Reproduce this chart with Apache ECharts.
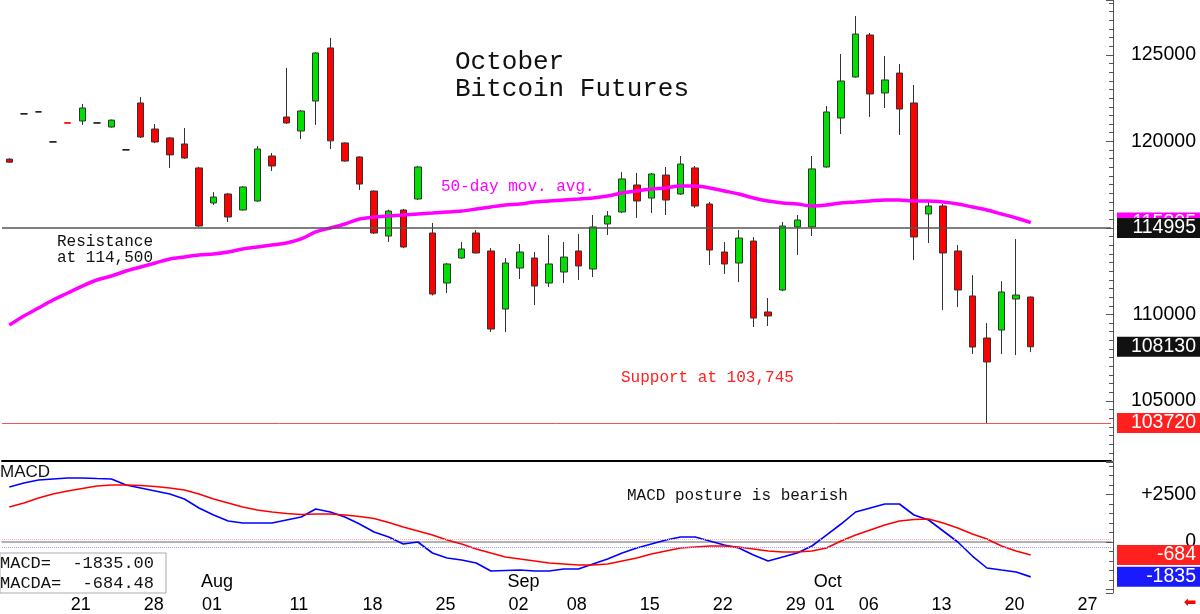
<!DOCTYPE html>
<html>
<head>
<meta charset="utf-8">
<title>October Bitcoin Futures</title>
<script src="https://cdn.jsdelivr.net/npm/echarts@6/dist/echarts.min.js"></script>
<style>
html, body { margin: 0; padding: 0; background: #fff; }
#chart { width: 1200px; height: 614px; }
</style>
</head>
<body>
<div id="chart"></div>
<script>
// trading days (last five are empty future slots on the axis)
var dates = ['07-15','07-16','07-17','07-18','07-21','07-22','07-23','07-24','07-25',
	'07-28','07-29','07-30','07-31','08-01','08-04','08-05','08-06','08-07','08-08',
	'08-11','08-12','08-13','08-14','08-15','08-18','08-19','08-20','08-21','08-22',
	'08-25','08-26','08-27','08-28','08-29','09-02','09-03','09-04','09-05',
	'09-08','09-09','09-10','09-11','09-12','09-15','09-16','09-17','09-18','09-19',
	'09-22','09-23','09-24','09-25','09-26','09-29','09-30','10-01','10-02','10-03',
	'10-06','10-07','10-08','10-09','10-10','10-13','10-14','10-15','10-16','10-17',
	'10-20','10-21','10-22','10-23','10-24','10-27','10-28','10-29'];

var opens = [118975, 121590, 121705, 119970, 121080, 121180, 121065, 120830, 119510,
	122220, 120715, 120200, 119850, 118465, 116440, 116960, 116035, 116555, 119155,
	121410, 120600, 122335, 125400, 119910, 119100, 117130, 114530, 116035, 116670,
	114705, 111815, 113260, 114705, 113665, 110310, 112680, 113260, 111815,
	112450, 113665, 112625, 115225, 115920, 117480, 116725, 118055, 116960, 118465,
	116380, 113605, 112970, 114240, 110140, 111410, 115055, 115055, 118520, 121350,
	123720, 126150, 122800, 123950, 122220, 115805, 116265, 113665, 111065, 108635,
	109095, 110890, 111005];
var closes = [118800, 121590, 121705, 119970, 121050, 121930, 121065, 121230, 119510,
	120255, 119965, 119220, 119040, 115110, 116785, 115630, 117365, 119560, 118580,
	121065, 121755, 125110, 120030, 118865, 117535, 114705, 115975, 113895, 118520,
	111180, 112915, 113780, 113550, 109155, 112970, 113605, 111640, 112915,
	113315, 112800, 115055, 115690, 117830, 116555, 118115, 116610, 118690, 116265,
	113720, 112915, 114415, 109790, 109910, 115110, 115455, 118410, 121700, 123490,
	126205, 122740, 123550, 121870, 114475, 116265, 113550, 111410, 108115, 107250,
	111295, 111120, 108130];
var highs = [119025, 121590, 121705, 119970, 121080, 122160, 121065, 121265, 119510,
	122565, 121005, 120250, 120775, 118530, 117070, 117010, 117415, 119735, 119330,
	124245, 121815, 125150, 125975, 119945, 119135, 117160, 116050, 116100, 118580,
	115285, 112965, 114185, 114880, 113840, 113260, 114070, 113605, 114590,
	114185, 114650, 115745, 115975, 118235, 118175, 118175, 118520, 119155, 118580,
	116500, 114185, 114880, 114470, 110950, 115340, 115745, 119155, 122045, 125050,
	127245, 126265, 124935, 124475, 123260, 116500, 116380, 114010, 112270, 109505,
	111920, 114355, 111040];
var lows = [118770, 121590, 121705, 119970, 121050, 120950, 121065, 120800, 119510,
	120195, 119895, 118465, 118985, 115055, 116325, 115340, 116000, 116505, 118290,
	121005, 120140, 120950, 119560, 118830, 117190, 114650, 114185, 113825, 116605,
	111095, 111235, 113215, 113520, 108980, 108980, 112045, 110540, 111585,
	111815, 111990, 112160, 114590, 115850, 115570, 115860, 115745, 116910, 116150,
	112855, 112335, 111870, 109270, 109330, 111345, 113430, 114530, 118475, 120425,
	123685, 121410, 121930, 120370, 113140, 114125, 110255, 110425, 107710, 103720,
	107710, 107650, 107820];

var ma50 = [109385, 109910, 110370, 110835, 111235, 111640, 111990, 112220, 112510, 112740,
	112970, 113205, 113320, 113435, 113490, 113605, 113780, 113895, 114010, 114125,
	114360, 114765, 114995, 115225, 115515, 115630, 115690, 115745, 115805, 115860,
	115920, 115975, 116090, 116210, 116325, 116380, 116495, 116555, 116615, 116670,
	116730, 116845, 117020, 117135, 117250, 117310, 117420, 117420, 117310, 117135,
	116960, 116730, 116555, 116440, 116380, 116265, 116325, 116440, 116495, 116555,
	116615, 116615, 116555, 116555, 116495, 116380, 116210, 116035, 115805, 115570,
	115305];

var macd = [2895, 3105, 3263, 3316, 3368, 3368, 3340, 3316, 3000, 2842,
	2684, 2526, 2263, 1790, 1421, 1105, 1000, 1000, 1000, 1158,
	1316, 1737, 1579, 1316, 947, 526, 263, -105, 0, -579,
	-842, -947, -1105, -1526, -1500, -1474, -1526, -1526, -1421, -1421,
	-1158, -895, -579, -316, -105, 105, 263, 263, 53, -158,
	-316, -684, -1000, -789, -579, -210, 368, 947, 1579, 1789,
	2000, 2000, 1421, 1158, 579, 0, -737, -1368, -1474, -1579,
	-1835];
var macda = [1842, 2053, 2316, 2526, 2684, 2816, 2947, 3000, 3000, 2974,
	2921, 2842, 2737, 2526, 2263, 2053, 1842, 1684, 1579, 1500,
	1447, 1474, 1474, 1421, 1342, 1237, 1026, 789, 579, 368,
	105, -105, -368, -579, -789, -895, -1000, -1105, -1158, -1210,
	-1210, -1158, -1000, -842, -631, -474, -316, -263, -210, -210,
	-263, -368, -474, -526, -526, -474, -316, 53, 368, 631,
	895, 1105, 1184, 1210, 1000, 737, 421, 158, -210, -474,
	-684];

var tickDates = ['07-21','07-28','08-01','08-11','08-18','08-25','09-02','09-08',
	'09-15','09-22','09-29','10-01','10-06','10-13','10-20','10-27'];
var monthDates = ['08-01', '09-02', '10-01'];
var monthNames = ['Aug', 'Sep', 'Oct'];

var resistanceLevel = 114995;
var supportLevel = 103720;
var macdLast = -1835.00;
var macdaLast = -684.48;

var MONO = 'Liberation Mono';
var SANS = 'Liberation Sans';
var NONE = 'rgba(0,0,0,0)';

/**
 * 价格K线数据
 * **/
var candles = closes.map(function(c, i) {
	var o = opens[i];
	var item = { value: [o, c, lows[i], highs[i]] };
	// 无成交区间的横线
	if (highs[i] === Math.max(o, c) && lows[i] === Math.min(o, c) && Math.abs(o - c) <= 60) {
		var col = o > c ? '#ff0000' : '#000';
		item.itemStyle = { color: col, color0: col, borderColor: col, borderColor0: col, borderColorDoji: col };
	}
	return item;
});

function tag(bg) {
	return {
		show: true,
		position: 'end',
		distance: 6,
		formatter: function(p) {
			return '{t|' + Math.round(p.value) + '}';
		},
		backgroundColor: bg,
		padding: [0, 4, 0, 4],
		rich: {
			t: { width: 75, align: 'right', color: '#fff', fontSize: 19.5, fontFamily: SANS, lineHeight: 20 }
		}
	};
}

var chart = echarts.init(document.getElementById('chart'));
window.onresize = function() {
	chart.resize();
};

var option = {
	animation: false,
	backgroundColor: '#fff',
	title: {
		text: 'October\nBitcoin Futures',
		left: 455,
		top: 49,
		padding: 0,
		textStyle: { fontFamily: MONO, fontSize: 26, lineHeight: 27, fontWeight: 'normal', color: '#111' }
	},
	grid: [
		{ left: 2, right: 89, top: 0, height: 461 },
		{ left: 2, right: 89, top: 462, bottom: 21 }
	],
	xAxis: [{
		type: 'category',
		gridIndex: 0,
		data: dates,
		axisLine: { lineStyle: { color: '#000', width: 2 } },
		axisTick: { show: false },
		axisLabel: { show: false },
		splitLine: { show: false }
	}, {
		type: 'category',
		gridIndex: 1,
		data: dates,
		axisLine: { lineStyle: { color: '#999', width: 1.5 } },
		axisTick: {
			alignWithLabel: true,
			length: 21,
			interval: function(i, v) { return tickDates.indexOf(v) >= 0; },
			lineStyle: { color: '#666' }
		},
		axisLabel: {
			interval: function(i, v) { return tickDates.indexOf(v) >= 0; },
			formatter: function(v) { return v.slice(3); },
			align: 'left',
			padding: [0, 0, 0, 3],
			margin: 3,
			fontSize: 18,
			fontFamily: SANS,
			color: '#000'
		},
		splitLine: { show: false }
	}, {
		type: 'category',
		gridIndex: 1,
		data: dates,
		position: 'bottom',
		axisLine: { show: false },
		axisTick: { show: false },
		axisLabel: {
			inside: true,
			interval: function(i, v) { return monthDates.indexOf(v) >= 0; },
			formatter: function(v) { return monthNames[monthDates.indexOf(v)] || ''; },
			align: 'left',
			padding: [0, 0, 0, 2],
			margin: 2,
			fontSize: 18,
			fontFamily: SANS,
			color: '#000'
		},
		splitLine: { show: false }
	}],
	yAxis: [{
		type: 'value',
		gridIndex: 0,
		position: 'right',
		offset: 2,
		min: 101527,
		max: 128172,
		minInterval: 5000,
		maxInterval: 5000,
		splitLine: { show: false },
		axisLine: { show: true, lineStyle: { color: '#555' } },
		axisTick: { show: true, inside: true, length: 7, lineStyle: { color: '#555' } },
		minorTick: { show: true, splitNumber: 10, length: 4, lineStyle: { color: '#555' } },
		axisLabel: {
			align: 'right',
			margin: 83,
			fontSize: 19.5,
			fontFamily: SANS,
			color: '#000',
			showMinLabel: false,
			showMaxLabel: false,
			formatter: function(v) { return String(v); }
		}
	}, {
		type: 'value',
		gridIndex: 1,
		position: 'right',
		offset: 2,
		min: -2684,
		max: 4211,
		minInterval: 2500,
		maxInterval: 2500,
		splitLine: { show: false },
		axisLine: { show: true, lineStyle: { color: '#555' } },
		axisTick: { show: true, inside: true, length: 7, lineStyle: { color: '#555' } },
		minorTick: { show: true, splitNumber: 5, length: 4, lineStyle: { color: '#555' } },
		axisLabel: {
			align: 'right',
			margin: 83,
			fontSize: 19.5,
			fontFamily: SANS,
			color: '#000',
			showMaxLabel: false,
			formatter: function(v) {
				if (v > 0) return '+' + v;
				if (v === 0) return '0';
				return '';
			}
		}
	}],
	series: [{
		name: 'October Bitcoin Futures',
		type: 'candlestick',
		xAxisIndex: 0,
		yAxisIndex: 0,
		barWidth: 7,
		data: candles,
		itemStyle: {
			color: '#00e000',
			color0: '#ff0000',
			borderColor: '#333',
			borderColor0: '#333',
			borderColorDoji: '#000',
			borderWidth: 1
		},
		markLine: {
			silent: true,
			symbol: 'none',
			data: [{
				yAxis: ma50[ma50.length - 1],
				lineStyle: { color: NONE },
				label: tag('#ff00ff')
			}, {
				yAxis: resistanceLevel,
				lineStyle: { color: '#555', width: 1.5, type: 'solid' },
				label: tag('#111')
			}, {
				yAxis: closes[closes.length - 1],
				lineStyle: { color: NONE },
				label: tag('#111')
			}]
		}
	}, {
		name: '50-day mov. avg.',
		type: 'line',
		xAxisIndex: 0,
		yAxisIndex: 0,
		data: ma50,
		smooth: 0.3,
		showSymbol: false,
		z: 3,
		lineStyle: { color: '#ff00ff', width: 3.5 },
		markLine: {
			silent: true,
			symbol: 'none',
			lineStyle: { color: '#ff5050', width: 1, type: 'solid' },
			data: [{
				yAxis: supportLevel,
				label: tag('#ff2020')
			}]
		}
	}, {
		name: 'MACD',
		type: 'line',
		xAxisIndex: 1,
		yAxisIndex: 1,
		data: macd,
		showSymbol: false,
		lineStyle: { color: '#0000ff', width: 1.6 },
		markLine: {
			silent: true,
			symbol: 'none',
			data: [{
				yAxis: -260,
				lineStyle: { color: '#a0a0ff', width: 1, type: 'dotted' },
				label: { show: false }
			}, {
				yAxis: macdLast,
				lineStyle: { color: NONE },
				label: tag('#1a1aff')
			}]
		}
	}, {
		name: 'MACDA',
		type: 'line',
		xAxisIndex: 1,
		yAxisIndex: 1,
		data: macda,
		showSymbol: false,
		lineStyle: { color: '#ff0000', width: 1.6 },
		markLine: {
			silent: true,
			symbol: 'none',
			data: [{
				yAxis: 150,
				lineStyle: { color: '#ffb0b0', width: 1, type: 'dotted' },
				label: { show: false }
			}, {
				yAxis: macdaLast,
				lineStyle: { color: NONE },
				label: tag('#ff2020')
			}]
		}
	}],
	graphic: [{
		type: 'text', z: 10, x: 441, y: 187,
		style: { text: '50-day mov. avg.', font: '16px "Liberation Mono"', fill: '#ff00ff', verticalAlign: 'middle' }
	}, {
		type: 'text', z: 10, x: 57, y: 250,
		style: { text: 'Resistance\nat 114,500', font: '16px "Liberation Mono"', lineHeight: 16, fill: '#111', verticalAlign: 'middle' }
	}, {
		type: 'text', z: 10, x: 621, y: 378,
		style: { text: 'Support at 103,745', font: '16px "Liberation Mono"', fill: '#ff2020', verticalAlign: 'middle' }
	}, {
		type: 'text', z: 10, x: 627, y: 496,
		style: { text: 'MACD posture is bearish', font: '16px "Liberation Mono"', fill: '#111', verticalAlign: 'middle' }
	}, {
		type: 'text', z: 10, x: 0, y: 472,
		style: { text: 'MACD', font: '17px "Liberation Sans"', fill: '#111', verticalAlign: 'middle' }
	}, {
		type: 'rect', z: 10,
		shape: { x: 0, y: 553, width: 166, height: 40 },
		style: { fill: '#fff', stroke: '#aaa', lineWidth: 1 }
	}, {
		type: 'text', z: 11, x: 0, y: 563,
		style: { text: 'MACD=', font: '17px "Liberation Mono"', fill: '#111', verticalAlign: 'middle' }
	}, {
		type: 'text', z: 11, x: 154, y: 563,
		style: { text: macdLast.toFixed(2), font: '17px "Liberation Mono"', fill: '#111', align: 'right', verticalAlign: 'middle' }
	}, {
		type: 'text', z: 11, x: 0, y: 583,
		style: { text: 'MACDA=', font: '17px "Liberation Mono"', fill: '#111', verticalAlign: 'middle' }
	}, {
		type: 'text', z: 11, x: 154, y: 583,
		style: { text: macdaLast.toFixed(2), font: '17px "Liberation Mono"', fill: '#111', align: 'right', verticalAlign: 'middle' }
	}, {
		type: 'text', z: 11, x: 1190, y: 603,
		style: { text: '⬅', font: '15px "DejaVu Sans"', fill: '#ff0000', align: 'center', verticalAlign: 'middle' }
	}]
};
chart.setOption(option);
</script>
</body>
</html>
